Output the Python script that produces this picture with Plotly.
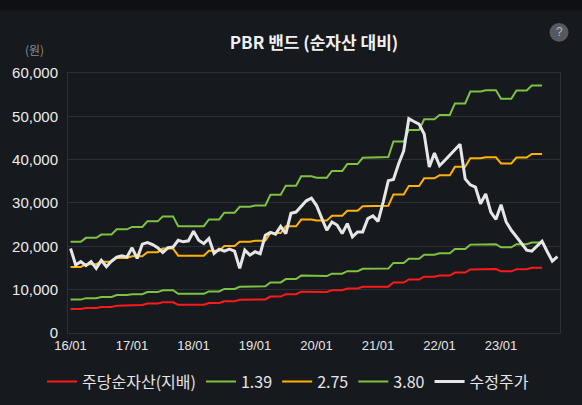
from plotly import graph_objects

# month categories 16/01 .. 23/12
months = [f"{y:02d}/{m:02d}" for y in range(16, 24) for m in range(1, 13)]
year_ticks = [f"{y:02d}/01" for y in range(16, 24)]

# 주당순자산(지배), monthly (16/01 .. 23/09)
bps = [5534, 5534, 5534, 5774, 5774, 5774, 5974, 5974, 5974,
       6295, 6295, 6295, 6437, 6437, 6437, 6776, 6776, 6776,
       7079, 7079, 7079, 6487, 6487, 6487, 6487, 6487, 6487,
       6895, 6895, 6895, 7303, 7303, 7303, 7663, 7663, 7663,
       7737, 7737, 7737, 8387, 8387, 8387, 8947, 8947, 8947,
       9516, 9516, 9516, 9432, 9432, 9432, 9837, 9837, 9837,
       10258, 10258, 10258, 10639, 10639, 10639, 10684, 10684, 10684,
       11626, 11626, 11626, 12329, 12329, 12329, 12974, 12974, 12974,
       13237, 13237, 13237, 13939, 13939, 13939, 14663, 14663, 14663,
       14742, 14742, 14742, 14221, 14221, 14221, 14724, 14724, 14724,
       15026, 15026, 15026]

# PBR multiples shown in the legend
multiples = [1.39, 2.75, 3.80]
band_colors = ['#7fc241', '#ffb300', '#7fc241']

# 수정주가, monthly (16/01 .. 23/12)
price = [19490, 15700, 16440, 15520, 16440, 14900, 16740, 15290, 16580, 17500, 17820, 17500,
         19650, 17200, 20480, 20870, 20410, 19650, 18570, 19650, 19810, 21390, 21030, 21260,
         23460, 21400, 20600, 21800, 18350, 19330, 18870, 19330, 18870, 14900, 19100, 17950,
         18730, 18280, 22540, 23200, 22800, 24600, 22900, 27600, 27900, 29300, 30500, 31100,
         29400, 26500, 23690, 25600, 24900, 22930, 25220, 22170, 23320, 23320, 26370, 27000,
         25750, 30200, 35150, 35400, 38980, 42000, 49460, 48800, 48200, 45900, 38300, 41500,
         38600, 39800, 41000, 42300, 43570, 35540, 34170, 33640, 29810, 32100, 27900, 26210,
         29580, 25610, 23690, 22200, 20700, 19100, 18870, 20100, 21160, 18800, 16580, 17590]

font_family = 'Liberation Sans, Noto Sans CJK KR, sans-serif'
kr_family = 'Noto Sans CJK KR, sans-serif'
card_bg = '#16191d'
grid_color = '#2c2f36'

fig = graph_objects.Figure()
fig.add_trace(graph_objects.Scatter(x=months[:len(bps)], y=bps, name='주당순자산(지배)',
                                    mode='lines', line=dict(color='#ff1a1a', width=2)))
for m, c in zip(multiples, band_colors):
    fig.add_trace(graph_objects.Scatter(x=months[:len(bps)], y=[round(b * m) for b in bps],
                                        name=f'{m:.2f}', mode='lines',
                                        line=dict(color=c, width=2)))
fig.add_trace(graph_objects.Scatter(x=months, y=price, name='수정주가', mode='lines',
                                    line=dict(color='#e6e6e6', width=3)))

fig.update_layout(
    width=582, height=405,
    margin=dict(l=67, r=22, t=73, b=70),
    paper_bgcolor=card_bg, plot_bgcolor=card_bg,
    font=dict(family=font_family, color='#e6e6e6', size=14),
    title=dict(text='<b>PBR 밴드 (순자산 대비)</b>', x=0.5, xref='paper', xanchor='center',
               y=0.894, yanchor='middle',
               font=dict(family=kr_family, size=17, color='#f0f0f0')),
    showlegend=True,
    legend=dict(orientation='h', x=0.495, xref='container', xanchor='center', y=0.058,
                yref='container', yanchor='middle', itemwidth=30,
                font=dict(family=kr_family, size=16, color='#e6e6e6'),
                bgcolor='rgba(0,0,0,0)'),
    hovermode='x unified',
)
fig.update_xaxes(type='category', categoryorder='array', categoryarray=months,
                 range=[-0.5, len(months) - 0.5],
                 tickmode='array', tickvals=year_ticks, ticktext=year_ticks,
                 showgrid=False, showline=True, linecolor=grid_color, mirror=True,
                 ticks='', tickfont=dict(size=13, color='#e6e6e6'))
fig.update_yaxes(range=[0, 60000], dtick=10000, tickformat=',d',
                 gridcolor=grid_color, showline=True, linecolor=grid_color, mirror=True,
                 zeroline=False, ticks='', ticklabelstandoff=6,
                 tickfont=dict(size=15, color='#ececec'))

# dark strip above the card, unit label and help badge
fig.add_shape(type='rect', xref='paper', yref='paper', x0=-0.3, x1=1.1, y0=1.241, y1=1.3,
              fillcolor='#0e1013', line_width=0, layer='below')
fig.add_annotation(text='(원)', xref='paper', yref='paper', x=-0.069, y=1.089,
                   showarrow=False, xanchor='center', yanchor='middle',
                   font=dict(family=kr_family, size=12, color='#8a8d93'))
fig.add_shape(type='circle', xref='paper', yref='paper',
              x0=0.998 - 0.0193, x1=0.998 + 0.0193, y0=1.1565 - 0.0363, y1=1.1565 + 0.0363,
              fillcolor='#55585e', line_width=0)
fig.add_annotation(text='?', xref='paper', yref='paper', x=0.998, y=1.1565,
                   showarrow=False, xanchor='center', yanchor='middle',
                   font=dict(size=12, color='#b8bac0'))

# drop the browser's default body margin so the figure sits at the page corner
fig.write_html("out.html", config={'displayModeBar': False},
               post_script="document.body.style.margin='0';"
                           "document.body.style.background='#16191d';")
